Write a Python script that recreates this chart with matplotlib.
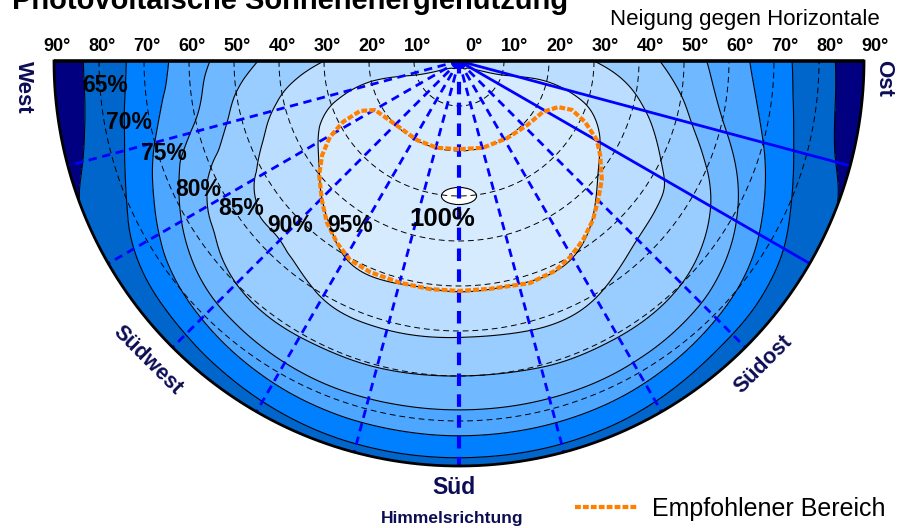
import numpy as np
import matplotlib.pyplot as plt
import matplotlib.tri as mtri
from matplotlib.patches import Ellipse

plt.rcParams['font.family'] = ['Liberation Sans', 'DejaVu Sans']

# Ausrichtung gegen Süd in Grad (Ost negativ, West positiv)
azimut = [-90, -75, -60, -45, -30, -15, 0, 15, 30, 45, 60, 75, 90]
# Neigung gegen die Horizontale in Grad
neigung = [0, 10, 20, 30, 40, 50, 60, 70, 80, 90]

# Jahresertrag in % vom Optimum, eine Zeile je Neigung (Ost -> Süd -> West)
ertrag = [
    [94.5, 94.5, 94.5, 94.5, 94.5, 94.5, 94.5, 94.5, 94.5, 94.5, 94.5, 94.5, 94.5],
    [94.0, 94.8, 95.8, 96.5, 97.0, 97.5, 97.5, 97.5, 97.0, 96.5, 95.8, 94.8, 94.0],
    [92.5, 95.3, 97.0, 98.0, 99.0, 99.5, 99.5, 99.5, 99.0, 98.0, 97.0, 95.3, 92.5],
    [90.0, 94.0, 97.0, 98.5, 99.5, 100.0, 100.0, 100.0, 99.5, 98.5, 97.0, 94.0, 90.0],
    [87.0, 91.0, 93.5, 96.0, 98.0, 98.5, 98.5, 98.5, 98.0, 96.0, 93.5, 91.0, 87.0],
    [82.5, 87.0, 90.6, 92.5, 95.2, 95.5, 95.5, 95.5, 95.2, 92.5, 90.6, 87.0, 82.5],
    [77.5, 81.0, 87.5, 88.7, 90.4, 91.0, 90.8, 91.0, 90.4, 88.7, 87.5, 81.0, 77.5],
    [72.0, 75.0, 81.0, 85.0, 85.5, 85.3, 85.0, 85.3, 85.5, 85.0, 81.0, 75.0, 72.0],
    [67.0, 68.0, 72.5, 76.0, 77.6, 78.0, 78.0, 78.0, 77.6, 76.0, 72.5, 68.0, 67.0],
    [61.0, 64.0, 66.0, 66.0, 67.2, 68.0, 68.0, 68.0, 67.2, 66.0, 66.0, 64.0, 61.0],
]

# Isolinien und Füllfarben (unter 65 % ... über 95 %)
stufen = [65, 70, 75, 80, 85, 90, 95]
farben = ['#000080', '#0066CC', '#0080FF', '#4DA6FF', '#70B8FF',
          '#99CCFF', '#BBDDFF', '#D7EBFF']

# optimale Ausrichtung
optimum_az, optimum_ng, optimum_wert = 0, 30, 100

# Empfohlener Bereich als Umriss (Azimut, Neigung)
bereich_az = [0, 14.2, 28.0, 41.4, 59.7, 63.2, 62.3, 59.5, 55.5, 50.8, 44.6,
              39.4, 33.8, 28.7, 22.9, 14.9, 7.2, 0, -7.7, -17.7, -24.6, -29.5,
              -34.7, -40.1, -45.0, -50.2, -56.3, -60.2, -64.2, -66.6, -65.1,
              -58.7, -46.7, -31.9, -15.4, 0]
bereich_ng = [19.6, 19.9, 19.9, 19.8, 21.6, 24.6, 29.1, 33.3, 36.9, 40.1, 43.4,
              46.3, 48.7, 50.4, 50.9, 51.0, 51.1, 51.1, 51.1, 51.8, 51.3, 50.1,
              48.4, 46.2, 43.7, 41.3, 37.7, 35.3, 31.1, 27.4, 24.3, 21.8, 20.8,
              20.2, 20.0, 19.6]

dunkelblau = '#0d0d55'


def polar_xy(az, ng):
    az = np.radians(np.asarray(az, dtype=float))
    ng = np.asarray(ng, dtype=float)
    return -ng * np.sin(az), -ng * np.cos(az)


def px(x, y):
    # Pixelposition -> Figurkoordinaten
    return x / 903, 1 - y / 528


# Dreiecksnetz im Raster (Azimut, Neigung), glätten, dann in die Halbscheibe abbilden
Z = np.array(ertrag)
A, N = np.meshgrid(azimut, neigung)
idx = np.arange(Z.size).reshape(Z.shape)
dreiecke = []
for i in range(Z.shape[0] - 1):
    for j in range(Z.shape[1] - 1):
        a, b, c, d = idx[i, j], idx[i, j + 1], idx[i + 1, j + 1], idx[i + 1, j]
        dreiecke += [[a, b, c], [a, c, d]]
netz = mtri.Triangulation(A.ravel() / 15.0, N.ravel() / 10.0, np.array(dreiecke))
fein, z_fein = mtri.UniformTriRefiner(netz).refine_field(Z.ravel(), subdiv=4)
x_f, y_f = polar_xy(fein.x * 15.0, fein.y * 10.0)
netz_xy = mtri.Triangulation(x_f, y_f, fein.triangles)
p = fein.triangles
flaeche = 0.5 * np.abs((x_f[p[:, 1]] - x_f[p[:, 0]]) * (y_f[p[:, 2]] - y_f[p[:, 0]])
                       - (x_f[p[:, 2]] - x_f[p[:, 0]]) * (y_f[p[:, 1]] - y_f[p[:, 0]]))
netz_xy.set_mask(flaeche < 1e-9)

fig = plt.figure(figsize=(9.03, 5.28), dpi=100)
ax = fig.add_axes([0, 0, 1, 1])
ax.set_xlim(-459 / 4.5, (903 - 459) / 4.5)
ax.set_ylim(-(528 - 61) / 4.5, 61 / 4.5)
ax.axis('off')

ax.tricontourf(netz_xy, z_fein, levels=[0] + stufen + [101], colors=farben, zorder=1)
ax.tricontour(netz_xy, z_fein, levels=stufen, colors='black', linewidths=0.8, zorder=2)

# Optimum
ax.add_patch(Ellipse(polar_xy(optimum_az, optimum_ng), 7.8, 3.8, fc='white',
                     ec='black', lw=0.8, zorder=2.5))

# Neigungskreise
theta = np.linspace(np.pi, 2 * np.pi, 300)
for t in neigung[1:-1]:
    ax.plot(t * np.cos(theta), t * np.sin(theta), color='black', lw=0.7,
            dashes=(6, 4), zorder=3)

# Himmelsrichtungen
for az in azimut[1:-1]:
    xe, ye = polar_xy(az, neigung[-1])
    if az in (-75, -60):
        ax.plot([0, xe], [0, ye], color='#0000FF', lw=2, zorder=4,
                solid_capstyle='butt')
    else:
        ax.plot([0, xe], [0, ye], color='#0000FF', lw=3 if az == 0 else 2,
                dashes=(3, 2), zorder=4)

# Empfohlener Bereich
bx, by = polar_xy(bereich_az, bereich_ng)
linie, = ax.plot(bx, by, color='#FF8000', lw=3, dashes=(1.4, 0.5), zorder=5,
                 label='Empfohlener Bereich')

# Umriss
ax.plot(neigung[-1] * np.cos(theta), neigung[-1] * np.sin(theta), color='black',
        lw=2, zorder=6)
ax.plot([-neigung[-1], neigung[-1]], [0, 0], color='black', lw=2.6, zorder=6,
        solid_capstyle='butt')

# Neigungsskala oben
for t in neigung:
    if t == 0:
        ax.text(1.3, 3.2, f'{t}°', ha='left', va='center', fontsize=13,
                fontweight='bold')
    else:
        ax.text(-t + 0.7, 3.2, f'{t}°', ha='center', va='center', fontsize=13,
                fontweight='bold')
        ax.text(t - 0.6, 3.2, f'{t}°', ha='left', va='center', fontsize=13,
                fontweight='bold')

# Beschriftung der Isolinien
label_pos = [(105.5, 86), (129, 122.5), (163.5, 153.5), (198.5, 189),
             (241.5, 209), (290, 226), (350, 226)]
for s, (lx, ly) in zip(stufen, label_pos):
    fig.text(*px(lx, ly), f'{s}%', ha='center', va='center', fontsize=16.5,
             fontweight='bold', zorder=7)
fig.text(*px(442.5, 218.5), f'{optimum_wert}%', ha='center', va='center',
         fontsize=18.5, fontweight='bold', zorder=7)

fig.text(*px(12, 9), 'Photovoltaische Sonnenenergienutzung', ha='left',
         va='baseline', fontsize=21, fontweight='bold')
fig.text(*px(610, 24.5), 'Neigung gegen Horizontale', ha='left', va='baseline',
         fontsize=16)

fig.text(*px(23, 87), 'West', rotation=-90, ha='center', va='center',
         fontsize=16, fontweight='bold', color=dunkelblau)
fig.text(*px(884, 78), 'Ost', rotation=-90, ha='center', va='center',
         fontsize=16, fontweight='bold', color=dunkelblau)
fig.text(*px(148, 360), 'Südwest', rotation=-45, ha='center', va='center',
         fontsize=15.5, fontweight='bold', color=dunkelblau)
fig.text(*px(763, 364), 'Südost', rotation=45, ha='center', va='center',
         fontsize=15.5, fontweight='bold', color=dunkelblau)
fig.text(*px(454, 488), 'Süd', ha='center', va='center', fontsize=16.5,
         fontweight='bold', color=dunkelblau)
fig.text(*px(452, 518), 'Himmelsrichtung', ha='center', va='center',
         fontsize=12.5, fontweight='bold', color=dunkelblau)

fig.legend(handles=[linie], loc='center left', bbox_to_anchor=px(575, 509),
           frameon=False, fontsize=18, handlelength=2.5, handletextpad=0.6,
           borderpad=0, borderaxespad=0)

fig.savefig('out.png', dpi=100)
